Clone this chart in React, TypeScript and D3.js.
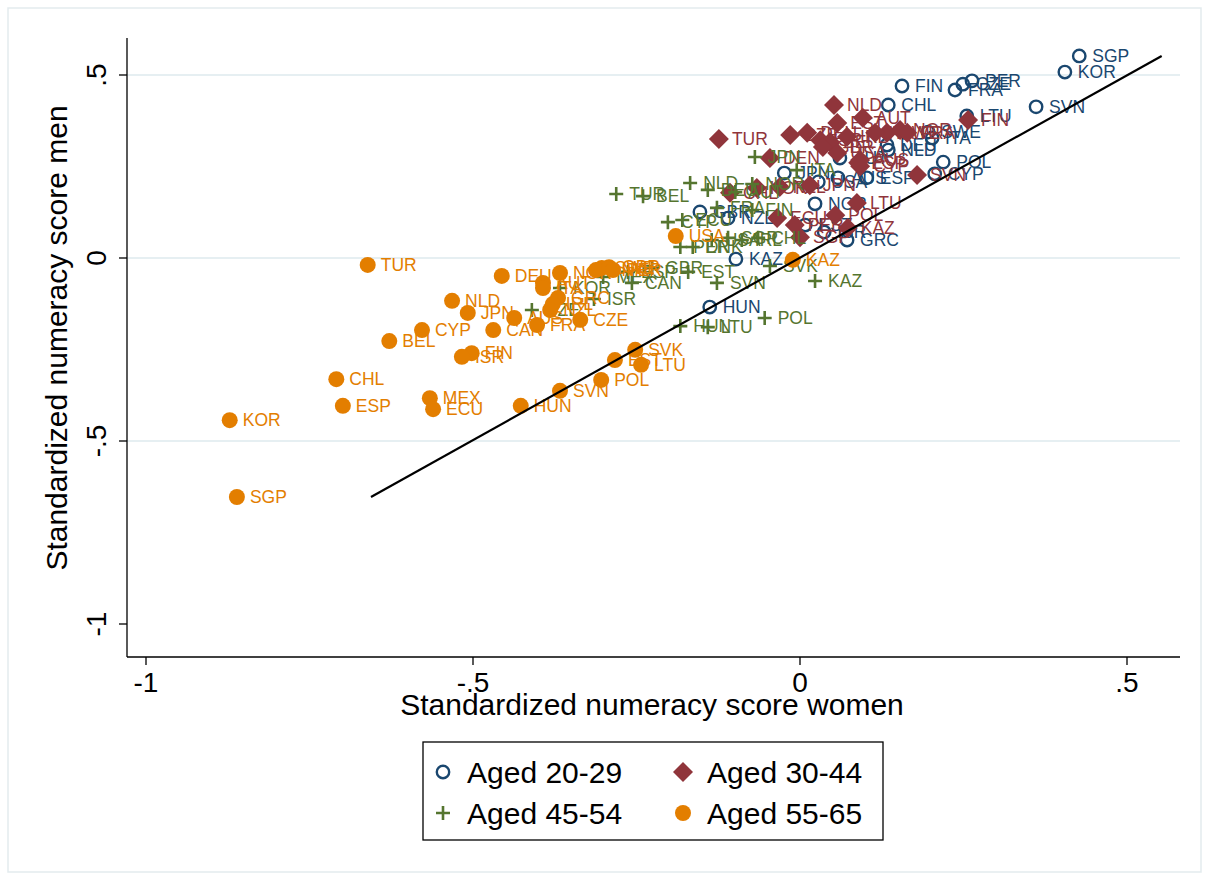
import React from 'react'
import * as d3 from 'd3'

// age groups in legend order
const groupNames = ['Aged 20-29', 'Aged 30-44', 'Aged 45-54', 'Aged 55-65']

// Aged 20-29
const codes2029 = ['SGP', 'KOR', 'PER', 'CZE', 'FRA', 'FIN', 'CHL', 'SVN', 'LTU', 'SWE', 'ITA', 'NLD', 'DEU', 'POL', 'CYP', 'ESP', 'AUS', 'USA', 'AUT', 'JPN', 'GBR', 'NZL', 'NOR', 'EST', 'ISR', 'GRC', 'KAZ', 'HUN']
const women2029 = [0.427, 0.405, 0.263, 0.249, 0.237, 0.156, 0.135, 0.361, 0.255, 0.196, 0.202, 0.135, 0.133, 0.219, 0.206, 0.102, 0.058, 0.028, 0.061, -0.024, -0.153, -0.11, 0.023, 0.008, 0.037, 0.072, -0.098, -0.138]
const men2029 = [0.552, 0.508, 0.484, 0.475, 0.459, 0.47, 0.418, 0.413, 0.388, 0.344, 0.328, 0.295, 0.309, 0.262, 0.23, 0.219, 0.219, 0.208, 0.273, 0.232, 0.126, 0.109, 0.148, 0.09, 0.071, 0.049, -0.003, -0.134]

// Aged 30-44
const codes3044 = ['NLD', 'FIN', 'AUT', 'TUR', 'CZE', 'DEU', 'ISR', 'EST', 'IRL', 'BEL', 'SWE', 'NOR', 'FRA', 'ITA', 'AUS', 'CYP', 'SVN', 'DEN', 'GBR', 'USA', 'ESP', 'CHL', 'KOR', 'NZL', 'ECU', 'SGP', 'POL', 'LTU', 'KAZ', 'PER', 'JPN']
const women3044 = [0.052, 0.257, 0.096, -0.124, -0.015, 0.011, 0.031, 0.057, 0.072, 0.046, 0.133, 0.153, 0.164, 0.115, 0.092, 0.092, 0.179, -0.046, 0.035, 0.057, 0.089, -0.107, -0.066, -0.031, -0.035, 0.0, 0.054, 0.087, 0.073, -0.008, 0.015]
const men3044 = [0.418, 0.377, 0.383, 0.325, 0.336, 0.342, 0.322, 0.369, 0.331, 0.317, 0.342, 0.35, 0.342, 0.342, 0.268, 0.251, 0.227, 0.273, 0.303, 0.287, 0.26, 0.178, 0.191, 0.194, 0.109, 0.057, 0.117, 0.15, 0.082, 0.09, 0.199]

// Aged 45-54
const codes4554 = ['TUR', 'BEL', 'NLD', 'DEU', 'AUT', 'NOR', 'JPN', 'ITA', 'CYP', 'ECU', 'FRA', 'FIN', 'PER', 'DNK', 'USA', 'SGP', 'IRL', 'CHL', 'SVK', 'KAZ', 'SVN', 'EST', 'ESP', 'GBR', 'MEX', 'CAN', 'ISR', 'KOR', 'CZE', 'HUN', 'LTU', 'POL']
const women4554 = [-0.281, -0.24, -0.168, -0.141, -0.099, -0.073, -0.069, -0.005, -0.202, -0.18, -0.127, -0.073, -0.183, -0.164, -0.135, -0.11, -0.089, -0.064, -0.046, 0.023, -0.127, -0.171, -0.263, -0.226, -0.301, -0.257, -0.315, -0.367, -0.41, -0.183, -0.141, -0.054]
const men4554 = [0.175, 0.169, 0.205, 0.186, 0.18, 0.202, 0.276, 0.24, 0.098, 0.104, 0.137, 0.131, 0.03, 0.03, 0.049, 0.055, 0.049, 0.055, -0.022, -0.063, -0.068, -0.038, -0.038, -0.027, -0.052, -0.068, -0.112, -0.082, -0.142, -0.186, -0.189, -0.164]

// Aged 55-65
const codes5565 = ['SGP', 'KOR', 'ESP', 'CHL', 'MEX', 'ECU', 'HUN', 'SVN', 'POL', 'EST', 'SVK', 'LTU', 'TUR', 'BEL', 'CYP', 'NLD', 'JPN', 'FIN', 'ISR', 'CAN', 'DEU', 'AUS', 'FRA', 'CZE', 'NOR', 'AUT', 'ITA', 'GRC', 'IRL', 'NZL', 'DNK', 'SWE', 'GBR', 'PER', 'USA', 'KAZ']
const women5565 = [-0.861, -0.872, -0.699, -0.709, -0.566, -0.561, -0.427, -0.367, -0.304, -0.283, -0.252, -0.243, -0.661, -0.628, -0.578, -0.532, -0.508, -0.502, -0.517, -0.469, -0.456, -0.437, -0.402, -0.336, -0.367, -0.393, -0.393, -0.37, -0.378, -0.382, -0.312, -0.303, -0.292, -0.286, -0.19, -0.011]
const men5565 = [-0.653, -0.443, -0.404, -0.331, -0.383, -0.413, -0.404, -0.363, -0.333, -0.279, -0.251, -0.292, -0.019, -0.227, -0.197, -0.117, -0.15, -0.26, -0.27, -0.197, -0.049, -0.164, -0.183, -0.169, -0.041, -0.068, -0.082, -0.109, -0.126, -0.142, -0.033, -0.027, -0.025, -0.033, 0.06, -0.005]

// 45 degree reference line
const fitWomen = [-0.656, 0.553]
const fitMen = [-0.653, 0.552]

const tickValues = [-1, -0.5, 0, 0.5]
const tickLabels = ['-1', '-.5', '0', '.5']

const colors = ['#1a476f', '#90353b', '#55752f', '#e37e00']
const font = '"Liberation Sans", Arial, sans-serif'

const W = 1209
const H = 880
const plot = { left: 127, right: 1180, top: 38, bottom: 657 }

const x = d3.scaleLinear().domain([-1, 0.5]).range([146, 1127])
const y = d3.scaleLinear().domain([-1, 0.5]).range([624, 75])

const diamond = d3.symbol(d3.symbolSquare, 200)() as string

function Marker({ g, cx, cy }: { g: number; cx: number; cy: number }) {
  const c = colors[g]
  if (g === 0)
    return <circle cx={cx} cy={cy} r={6.2} fill="none" stroke={c} strokeWidth={2.4} />
  if (g === 1)
    return <path d={diamond} transform={`translate(${cx},${cy}) rotate(45)`} fill={c} />
  if (g === 2)
    return <path d={`M${cx - 7},${cy}H${cx + 7}M${cx},${cy - 7}V${cy + 7}`} stroke={c} strokeWidth={2.6} fill="none" />
  return <circle cx={cx} cy={cy} r={8} fill={c} />
}

const groups = [
  { codes: codes2029, women: women2029, men: men2029 },
  { codes: codes3044, women: women3044, men: men3044 },
  { codes: codes4554, women: women4554, men: men4554 },
  { codes: codes5565, women: women5565, men: men5565 },
]

export default function App() {
  const line = d3.line<number>()
    .x((d) => x(d))
    .y((d, i) => y(fitMen[i]))

  return (
    <svg width={W} height={H} style={{ position: 'absolute', left: 0, top: 0, background: '#fff' }} fontFamily={font}>
      <rect x={0} y={0} width={W} height={H} fill="#fff" />
      <rect x={8} y={8} width={1193} height={864} fill="none" stroke="#e3ebee" strokeWidth={1.5} />

      {/* gridlines */}
      {tickValues.filter((t) => t > -1).map((t) => (
        <line key={'g' + t} x1={plot.left} x2={plot.right} y1={y(t)} y2={y(t)} stroke="#e6eff2" strokeWidth={1.8} />
      ))}

      {/* points and labels */}
      {groups.map((grp, g) => (
        <g key={'grp' + g}>
          {grp.codes.map((code, i) => (
            <g key={code + i}>
              <Marker g={g} cx={x(grp.women[i])} cy={y(grp.men[i])} />
              <text x={x(grp.women[i]) + 13} y={y(grp.men[i])} dy="0.36em" fontSize={17.5} fill={colors[g]}>{code}</text>
            </g>
          ))}
        </g>
      ))}

      {/* fitted line */}
      <path d={line(fitWomen) as string} stroke="#000" strokeWidth={2.2} fill="none" />

      {/* axes */}
      <line x1={plot.left} x2={plot.left} y1={plot.top} y2={plot.bottom} stroke="#000" strokeWidth={1.3} />
      <line x1={plot.left} x2={plot.right} y1={plot.bottom} y2={plot.bottom} stroke="#000" strokeWidth={1.3} />
      {tickValues.map((t, i) => (
        <g key={'xt' + t}>
          <line x1={x(t)} x2={x(t)} y1={plot.bottom} y2={plot.bottom + 8} stroke="#000" strokeWidth={1.3} />
          <text x={x(t)} y={plot.bottom + 35} textAnchor="middle" fontSize={28} fill="#000">{tickLabels[i]}</text>
        </g>
      ))}
      {tickValues.map((t, i) => (
        <g key={'yt' + t}>
          <line x1={plot.left - 8} x2={plot.left} y1={y(t)} y2={y(t)} stroke="#000" strokeWidth={1.3} />
          <text transform={`translate(106,${y(t)}) rotate(-90)`} textAnchor="middle" fontSize={28} fill="#000">{tickLabels[i]}</text>
        </g>
      ))}

      <text x={652} y={715} textAnchor="middle" fontSize={30} fill="#000">Standardized numeracy score women</text>
      <text transform="translate(67,338) rotate(-90)" textAnchor="middle" fontSize={30} fill="#000">Standardized numeracy score men</text>

      {/* legend */}
      <rect x={423} y={742} width={460} height={98} fill="#fff" stroke="#000" strokeWidth={1.3} />
      {groupNames.map((name, g) => {
        const lx = g % 2 === 0 ? 443 : 683
        const ly = g < 2 ? 772 : 813
        return (
          <g key={name}>
            <Marker g={g} cx={lx} cy={ly} />
            <text x={lx + 24} y={ly} dy="0.36em" fontSize={30} fill="#000">{name}</text>
          </g>
        )
      })}
    </svg>
  )
}
